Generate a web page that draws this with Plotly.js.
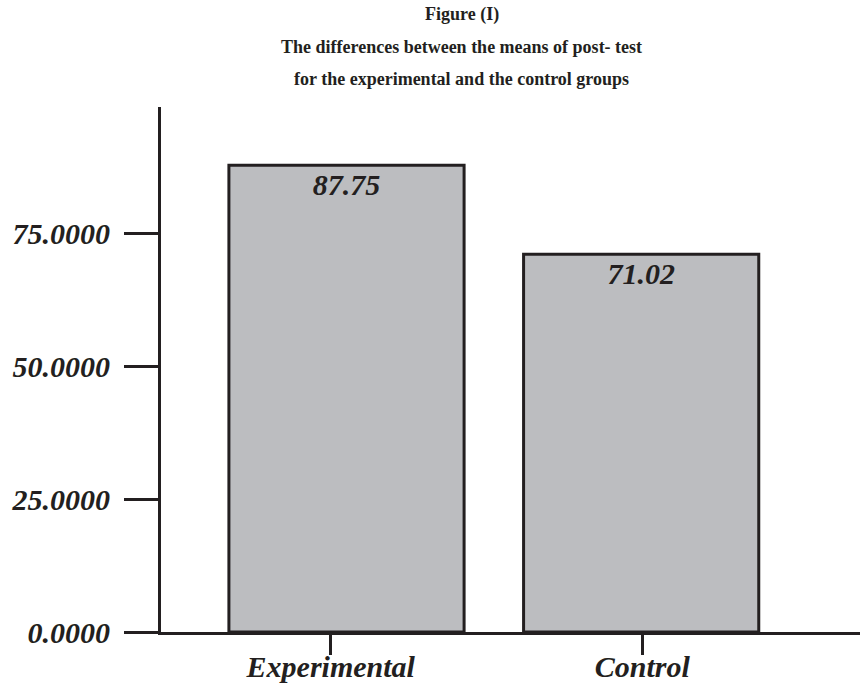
<!DOCTYPE html>
<html>
<head>
<meta charset="utf-8">
<script src="https://cdn.plot.ly/plotly-3.0.1.min.js"></script>
<style>html,body{margin:0;padding:0;background:#fff;}#chart{width:860px;height:686px;}</style>
</head>
<body>
<div id="chart"></div>
<script>
const categories = ["Experimental", "Control"];
const means = [87.75, 71.02];
const valueLabels = ["87.75", "71.02"];
const yTicks = [0, 25, 50, 75];
const titleLines = [
  "Figure (I)",
  "The differences between the means of post- test",
  "for the experimental and the control groups"
];

const ink = "#231f20";
const serifBI = {family: "Liberation Serif, Times New Roman, serif", size: 30, color: ink, weight: "bold", style: "italic"};

const trace = {
  type: "bar",
  x: categories,
  y: means,
  text: valueLabels,
  textposition: "inside",
  insidetextanchor: "end",
  textangle: 0,
  textfont: serifBI,
  width: 0.755,
  offset: [-0.327, -0.381],
  marker: {color: "#bcbdc0", line: {color: ink, width: 3}},
  hoverinfo: "skip"
};

const titleY = [1.177, 1.114, 1.053];
const annotations = titleLines.map((t, i) => ({
  text: t,
  xref: "paper", yref: "paper",
  x: 0.43, y: titleY[i],
  xanchor: "center", yanchor: "middle",
  showarrow: false,
  font: {family: "Liberation Serif, Times New Roman, serif", size: 18, color: ink, weight: "bold"}
}));

const layout = {
  width: 860, height: 686,
  margin: {l: 161, r: 0, t: 107, b: 54, pad: 0},
  paper_bgcolor: "#ffffff",
  plot_bgcolor: "#ffffff",
  showlegend: false,
  bargap: 0.2,
  xaxis: {
    type: "category",
    range: [-0.545, 1.699],
    showgrid: false, zeroline: false,
    showline: true, linecolor: ink, linewidth: 3,
    ticks: "outside", ticklen: 20, tickwidth: 3, tickcolor: ink,
    ticklabelstandoff: -14,
    tickfont: serifBI,
    fixedrange: true
  },
  yaxis: {
    range: [0, 98.7],
    tickvals: yTicks,
    tickformat: ".4f",
    showgrid: false, zeroline: false,
    showline: true, linecolor: ink, linewidth: 3,
    ticks: "outside", ticklen: 34, tickwidth: 3, tickcolor: ink,
    ticklabelstandoff: 8,
    tickfont: serifBI,
    fixedrange: true
  },
  annotations: annotations
};

Plotly.newPlot("chart", [trace], layout, {displayModeBar: false, staticPlot: true});
</script>
</body>
</html>
